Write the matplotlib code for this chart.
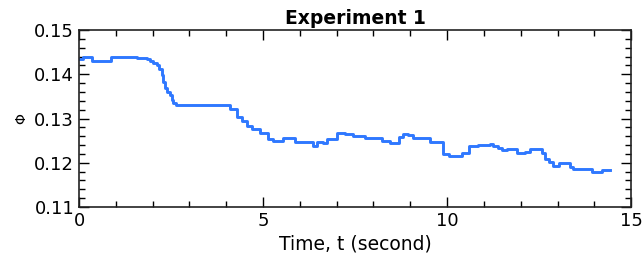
import matplotlib
matplotlib.use("Agg")
import matplotlib.pyplot as plt
from matplotlib.ticker import MultipleLocator

# Step-change times (s) and Phi values (post-step)
time_s = [0.00, 0.10, 0.35, 0.87, 1.58, 1.84, 1.93, 2.02, 2.11, 2.18, 2.25, 2.29,
          2.34, 2.39, 2.46, 2.52, 2.56, 2.64, 4.10, 4.28, 4.44, 4.56, 4.69, 4.92,
          5.14, 5.28, 5.55, 5.87, 6.05, 6.37, 6.46, 6.64, 6.75, 7.00, 7.23, 7.45,
          7.77, 8.04, 8.22, 8.45, 8.68, 8.81, 8.95, 9.08, 9.54, 9.90, 10.06, 10.40,
          10.60, 10.85, 11.17, 11.26, 11.39, 11.50, 11.62, 11.89, 12.12, 12.26,
          12.57, 12.66, 12.78, 12.89, 13.05, 13.34, 13.41, 13.52, 13.93, 14.20, 14.43]
phi = [0.1435, 0.1438, 0.1429, 0.1439, 0.1437, 0.1434, 0.1430, 0.1425, 0.1421,
       0.1413, 0.1398, 0.1383, 0.1369, 0.1361, 0.1353, 0.1342, 0.1336, 0.1331,
       0.1321, 0.1304, 0.1294, 0.1283, 0.1276, 0.1267, 0.1254, 0.1249, 0.1255,
       0.1246, 0.1248, 0.1239, 0.1248, 0.1245, 0.1254, 0.1268, 0.1264, 0.1260,
       0.1256, 0.1257, 0.1249, 0.1244, 0.1259, 0.1264, 0.1262, 0.1256, 0.1246,
       0.1220, 0.1215, 0.1221, 0.1238, 0.1240, 0.1242, 0.1238, 0.1234, 0.1229,
       0.1230, 0.1221, 0.1224, 0.1230, 0.1221, 0.1208, 0.1202, 0.1193, 0.1199,
       0.1191, 0.1185, 0.1187, 0.1180, 0.1184, 0.1184]

fig = plt.figure(figsize=(6.44, 2.59), dpi=100)
ax = fig.add_axes([0.1227, 0.2008, 0.8573, 0.6832])

ax.step(time_s, phi, where='post', color='#2f78ff', linewidth=2.1)

ax.set_xlim(0, 15)
ax.set_ylim(0.11, 0.15)
ax.xaxis.set_major_locator(MultipleLocator(5))
ax.xaxis.set_minor_locator(MultipleLocator(1))
ax.yaxis.set_major_locator(MultipleLocator(0.01))
ax.yaxis.set_minor_locator(MultipleLocator(0.002))
ax.tick_params(which='both', direction='in', top=True, right=True, labelsize=13,
               width=1, colors='black')
ax.tick_params(which='major', length=7)
ax.tick_params(which='minor', length=4)
for s in ax.spines.values():
    s.set_linewidth(1.2)
    s.set_color('#222222')

ax.set_xlabel('Time, t (second)', fontsize=13.5, labelpad=3)
ax.set_ylabel(r'$\Phi$', fontsize=10, labelpad=4)
ax.set_title('Experiment 1', fontsize=13.5, fontweight='bold', pad=4)

fig.savefig('out.png', dpi=100)
